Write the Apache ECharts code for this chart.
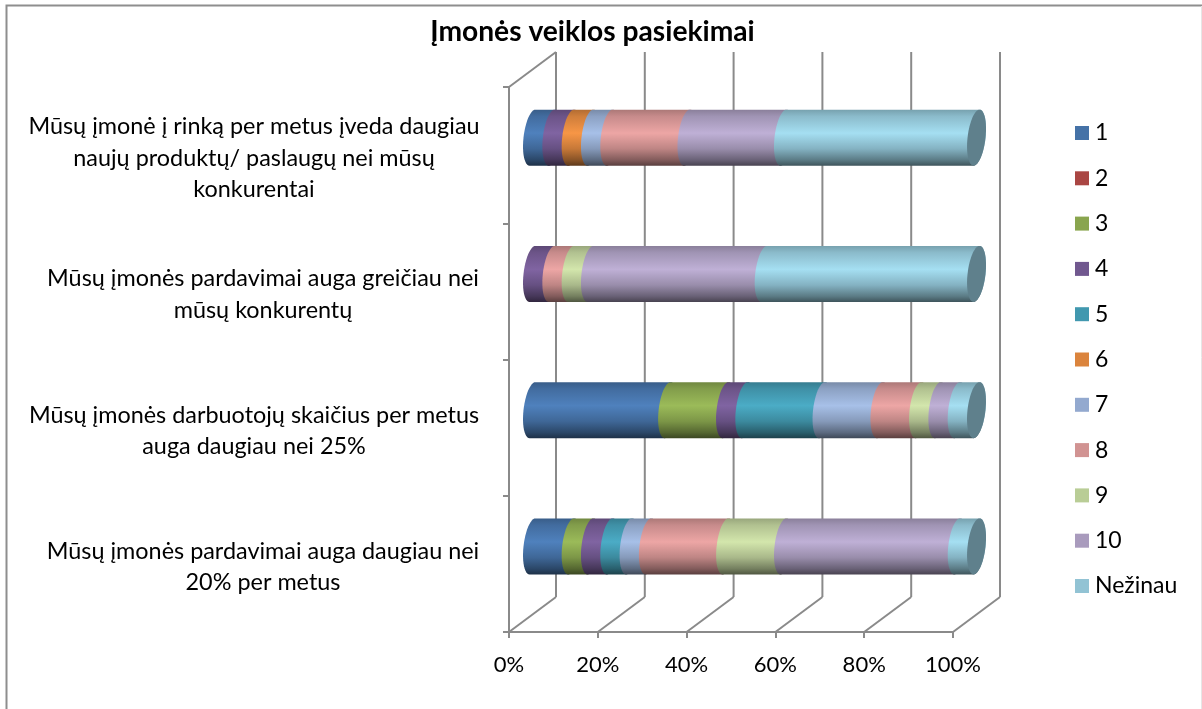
<!DOCTYPE html>
<html>
<head>
<meta charset="utf-8">
<style>html,body{margin:0;padding:0;background:#fff}#c{width:1202px;height:709px}</style>
<script src="https://cdn.jsdelivr.net/npm/echarts@6/dist/echarts.min.js"></script>
</head>
<body>
<div id="c"></div>
<script>
const titleText = 'Įmonės veiklos pasiekimai';
const categories = [
  'Mūsų įmonės pardavimai auga daugiau nei\n20% per metus',
  'Mūsų įmonės darbuotojų skaičius per metus\nauga daugiau nei 25%',
  'Mūsų įmonės pardavimai auga greičiau nei\nmūsų konkurentų',
  'Mūsų įmonė į rinką per metus įveda daugiau\nnaujų produktų/ paslaugų nei mūsų\nkonkurentai'
];
const seriesNames = ['1','2','3','4','5','6','7','8','9','10','Nežinau'];
const s1  = [8.70, 30.43, 0, 4.35];
const s2  = [0, 0, 0, 0];
const s3  = [4.35, 13.04, 0, 0];
const s4  = [4.35, 4.35, 4.35, 4.35];
const s5  = [4.35, 17.39, 0, 0];
const s6  = [0, 0, 0, 4.35];
const s7  = [4.35, 13.04, 0, 4.35];
const s8  = [17.39, 8.70, 4.35, 17.39];
const s9  = [13.04, 4.35, 4.35, 0];
const s10 = [39.13, 4.35, 39.13, 21.74];
const s11 = [4.35, 4.35, 47.83, 43.48];
const seriesValues = [s1,s2,s3,s4,s5,s6,s7,s8,s9,s10,s11];
const legendColors = ['#4572A7','#AA4643','#89A54E','#71588F','#4198AF','#DB843D','#93A9CF','#D19392','#B9CD96','#A99BBD','#92C3D4'];
const brightColors = ['#4F81BD','#C0504D','#9BBB59','#8064A2','#4BACC6','#F79646','#A7C0E8','#EDA6A5','#D3E6AC','#BFB0D6','#A5DFF2'];
const capColor = '#5F808C';
const xTicks = [0,20,40,60,80,100];

const DEPTH_X = 47, DEPTH_Y = 35, RX = 9, SKEW = 3, RY = 28;
const lineColor = '#8A8A8A';
const FONT = 'Lato';

function shade(hex, f) {
  const n = parseInt(hex.slice(1), 16);
  const c = [(n>>16)&255, (n>>8)&255, n&255].map(v => Math.round(v*f));
  return 'rgb(' + c.join(',') + ')';
}
function halfEllipse(cx, cy, from, to, steps) {
  const pts = [];
  for (let i = 0; i <= steps; i++) {
    const t = from + (to-from)*i/steps;
    pts.push([cx + RX*Math.cos(t) - SKEW*Math.sin(t), cy + RY*Math.sin(t)]);
  }
  return pts;
}
function cylinderItem(sIdx) {
  return function (params, api) {
    const a = api.value(0), b = api.value(1), cat = api.value(2);
    if (b - a <= 0) return null;
    const pa = api.coord([a, cat]), pb = api.coord([b, cat]);
    const cy = pa[1] - DEPTH_Y/2;
    const ax = pa[0] + DEPTH_X/2, bx = pb[0] + DEPTH_X/2;
    const left = halfEllipse(ax, cy, -Math.PI/2, -3*Math.PI/2, 24);
    const right = halfEllipse(bx, cy, Math.PI/2, -Math.PI/2, 24);
    const base = brightColors[sIdx];
    const fill = new echarts.graphic.LinearGradient(0,0,0,1,[
      {offset:0, color:shade(base,0.72)},
      {offset:0.12, color:shade(base,0.84)},
      {offset:0.42, color:shade(base,1)},
      {offset:0.70, color:shade(base,0.80)},
      {offset:0.90, color:shade(base,0.55)},
      {offset:1, color:shade(base,0.38)}
    ]);
    const children = [{
      type:'polygon',
      shape:{points:left.concat(right)},
      style:{fill:fill}
    }];
    if (sIdx === seriesNames.length-1) {
      children.push({
        type:'polygon',
        shape:{points:halfEllipse(bx, cy, 0, 2*Math.PI, 60)},
        style:{fill:capColor}
      });
    }
    return {type:'group', children:children};
  };
}
function wallItem(params, api) {
  const v = api.value(0);
  const band = api.size([0,1])[1];
  const first = api.coord([v, 0]);
  const last = api.coord([v, categories.length-1]);
  const floorY = first[1] + band/2, topY = last[1] - band/2, x = first[0];
  const ln = (x1,y1,x2,y2) => ({type:'line', shape:{x1,y1,x2,y2}, style:{stroke:lineColor, lineWidth:2}});
  const kids = [
    ln(x, floorY, x+DEPTH_X, floorY-DEPTH_Y),
    ln(x+DEPTH_X, floorY-DEPTH_Y, x+DEPTH_X, topY-DEPTH_Y)
  ];
  if (params.dataIndex === 0) kids.push(ln(x, topY, x+DEPTH_X, topY-DEPTH_Y));
  return {type:'group', children:kids};
}

const labelWidths = [434, 452, 434, 452];
const rich = {};
categories.forEach((c,i) => {
  rich['r'+i] = {width:labelWidths[i], align:'center', fontSize:23.4, lineHeight:31.3, fontFamily:FONT, color:'#000'};
});

const running = categories.map(() => 0);
const cylinderSeries = seriesNames.map((name, sIdx) => {
  const data = seriesValues[sIdx].map((v, cat) => {
    const start = running[cat];
    running[cat] += v;
    return [start, running[cat], cat];
  });
  return {
    type:'custom', name, data, clip:false, z:3,
    coordinateSystem:'cartesian2d',
    encode:{x:[0,1], y:2},
    itemStyle:{color:legendColors[sIdx]},
    renderItem:cylinderItem(sIdx)
  };
});

const chart = echarts.init(document.getElementById('c'), null, {renderer:'canvas'});
chart.setOption({
  animation:false,
  backgroundColor:'#fff',
  title:{
    text:titleText, left:587.5, top:13, textAlign:'center',
    textStyle:{fontFamily:FONT, fontSize:28.2, fontWeight:'bold', color:'#000'}
  },
  legend:{
    orient:'vertical', left:1075, top:121.5, padding:0,
    itemWidth:14, itemHeight:14, itemGap:22.3, icon:'rect',
    data:seriesNames, selectedMode:false,
    textStyle:{fontFamily:FONT, fontSize:23, color:'#000', padding:[0,0,0,1]}
  },
  graphic:[
    {type:'polyline', silent:true, z:-1, shape:{points:[[6.5,720],[6.5,5.5],[1202,5.5]]},
     style:{fill:'none', stroke:'#8E8E8E', lineWidth:2}},
    {type:'line', silent:true, z:-1, shape:{x1:1201.5,y1:6,x2:1201.5,y2:709},
     style:{stroke:'#E6E6E6', lineWidth:1}}
  ],
  grid:{left:509, top:87, width:444, height:545, containLabel:false},
  xAxis:{
    type:'value', min:0, max:100, interval:20,
    axisLine:{show:true, lineStyle:{color:lineColor, width:2}},
    axisTick:{show:true, length:6, lineStyle:{color:lineColor, width:2}},
    splitLine:{show:false},
    axisLabel:{formatter:'{value}%', margin:22, fontFamily:FONT, fontSize:22, color:'#000'}
  },
  yAxis:{
    type:'category', data:categories,
    axisLine:{show:true, lineStyle:{color:lineColor, width:2}},
    axisTick:{show:true, length:6, alignWithLabel:false, lineStyle:{color:lineColor, width:2}},
    splitLine:{show:false},
    axisLabel:{
      margin:29, interval:0, padding:[6,0,0,0],
      formatter:function(v, i){
        return v.split('\n').map(l => '{r'+i+'|'+l+'}').join('\n');
      },
      rich:rich
    }
  },
  series:[{
    type:'custom', name:'walls', data:xTicks.map(t => [t, 0]), clip:false, z:1,
    coordinateSystem:'cartesian2d', encode:{x:0, y:1}, silent:true,
    renderItem:wallItem
  }].concat(cylinderSeries)
});
</script>
</body>
</html>
